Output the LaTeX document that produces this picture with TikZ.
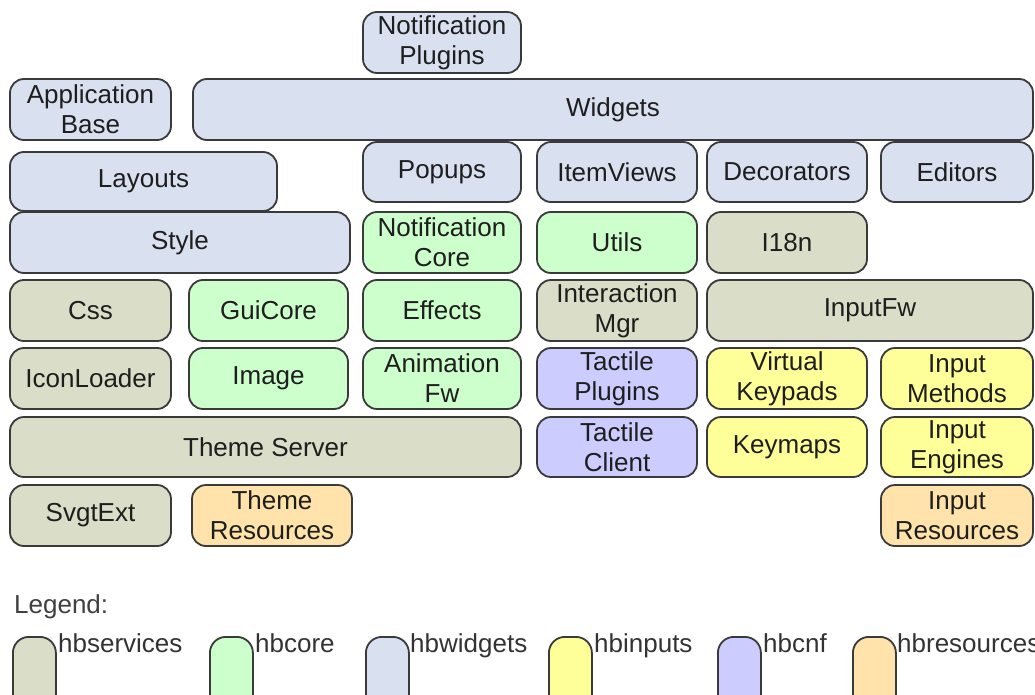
\documentclass[tikz,border=0pt]{standalone}
\usepackage{fontspec}
\setmainfont{Liberation Sans}
\definecolor{cwid}{HTML}{D9E0F0}
\definecolor{ccore}{HTML}{CCFFCC}
\definecolor{cserv}{HTML}{DADDC7}
\definecolor{cinp}{HTML}{FFFF99}
\definecolor{ccnf}{HTML}{CCCCFF}
\definecolor{cres}{HTML}{FFE3AA}
\definecolor{cline}{HTML}{3A3A3A}
\definecolor{ctext}{HTML}{1E1E1E}
\begin{document}
\begin{tikzpicture}[x=1pt,y=-1pt,
  blk/.style={draw=cline, line width=1.8pt, rounded corners=14pt, align=center,
    inner sep=0pt, text=ctext, font=\fontsize{26}{30}\selectfont},
  wid/.style={blk, fill=cwid}, core/.style={blk, fill=ccore}, serv/.style={blk, fill=cserv},
  inp/.style={blk, fill=cinp}, cnf/.style={blk, fill=ccnf}, res/.style={blk, fill=cres},
  lgbox/.style={draw=cline, line width=1.8pt, rounded corners=16pt, minimum width=43pt,
    minimum height=100pt, inner sep=0pt, anchor=north west},
  lgtext/.style={text=black!80, font=\fontsize{26}{30}\selectfont, inner sep=0pt, anchor=north west}]
\clip (0,0) rectangle (1035,695);
\useasboundingbox (0,0) rectangle (1035,695);
\fill[white] (0,0) rectangle (1035,695);
\newcommand{\blkat}[7]{\node[#6, minimum width={#4-#2}, minimum height={#5-#3}] (#1) at ({(#2+#4)/2},{(#3+#5)/2}) {#7};}
\blkat{notifplug}{363}{12}{521}{73}{wid}{Notification\\Plugins}
\blkat{appbase}{10}{79}{171}{140}{wid}{Application\\Base}
\blkat{widgets}{193}{79}{1033}{140}{wid}{Widgets}
\blkat{layouts}{10}{152}{277}{211}{wid}{Layouts}
\blkat{popups}{363}{142}{521}{202}{wid}{Popups}
\blkat{itemviews}{537}{142}{697}{202}{wid}{ItemViews}
\blkat{decorators}{707}{142}{867}{202}{wid}{Decorators}
\blkat{editors}{881}{142}{1033}{202}{wid}{Editors}
\blkat{style}{10}{212}{350}{273}{wid}{Style}
\blkat{notifcore}{363}{212}{521}{273}{core}{Notification\\Core}
\blkat{utils}{537}{212}{697}{273}{core}{Utils}
\blkat{ieighteenn}{707}{212}{867}{273}{serv}{I18n}
\blkat{css}{10}{280}{171}{341}{serv}{Css}
\blkat{guicore}{189}{280}{348}{341}{core}{GuiCore}
\blkat{effects}{363}{280}{521}{341}{core}{Effects}
\blkat{intmgr}{537}{280}{697}{341}{serv}{Interaction\\Mgr}
\blkat{inputfw}{707}{280}{1033}{341}{serv}{InputFw}
\blkat{iconloader}{10}{348}{171}{409}{serv}{IconLoader}
\blkat{image}{189}{348}{348}{409}{core}{Image}
\blkat{animfw}{363}{348}{521}{409}{core}{Animation\\Fw}
\blkat{tactplug}{537}{348}{697}{409}{cnf}{Tactile\\Plugins}
\blkat{virtkp}{707}{348}{867}{409}{inp}{Virtual\\Keypads}
\blkat{inpmeth}{881}{348}{1033}{409}{inp}{Input\\Methods}
\blkat{themeserver}{10}{417}{521}{477}{serv}{Theme Server}
\blkat{tactclient}{537}{417}{697}{477}{cnf}{Tactile\\Client}
\blkat{keymaps}{707}{417}{867}{477}{inp}{Keymaps}
\blkat{inpeng}{881}{417}{1033}{477}{inp}{Input\\Engines}
\blkat{svgtext}{10}{485}{171}{546}{serv}{SvgtExt}
\blkat{themeres}{192}{485}{352}{546}{res}{Theme\\Resources}
\blkat{inpres}{881}{485}{1033}{546}{res}{Input\\Resources}
% legend
\node[text=black!75, font=\fontsize{26}{30}\selectfont, inner sep=0pt, anchor=base west] (legend) at (14,613) {Legend:};
\node[lgbox, fill=cserv] (lg1) at (12,636) {};
\node[lgtext] (lt1) at (58,633) {hbservices};
\node[lgbox, fill=ccore] (lg2) at (209,636) {};
\node[lgtext] (lt2) at (255,633) {hbcore};
\node[lgbox, fill=cwid] (lg3) at (365,636) {};
\node[lgtext] (lt3) at (410,633) {hbwidgets};
\node[lgbox, fill=cinp] (lg4) at (548,636) {};
\node[lgtext] (lt4) at (594,633) {hbinputs};
\node[lgbox, fill=ccnf] (lg5) at (717,636) {};
\node[lgtext] (lt5) at (763,633) {hbcnf};
\node[lgbox, fill=cres] (lg6) at (852,636) {};
\node[lgtext] (lt6) at (897,633) {hbresources};
\end{tikzpicture}
\end{document}
